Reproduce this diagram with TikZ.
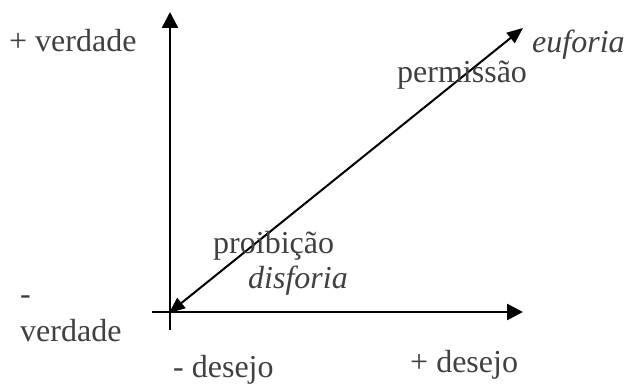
\documentclass[tikz,border=0pt]{standalone}
\usepackage{fontspec}
\setmainfont{Liberation Serif}
\usetikzlibrary{arrows.meta}
\definecolor{txtgray}{HTML}{404040}
\begin{document}
\begin{tikzpicture}[x=1pt,y=-1pt,
  lbl/.style={anchor=base west,inner sep=0pt,text=txtgray,font=\fontsize{32}{37}\selectfont},
  axis/.style={line width=2.6pt,-{Triangle[length=16pt,width=16pt]}},
  diag/.style={line width=2pt,{Triangle[length=16pt,width=13pt]}-{Triangle[length=16pt,width=13pt]}}]
\useasboundingbox (0,0) rectangle (626,385);
\coordinate (vbot) at (170,330);
\coordinate (vtop) at (170,12);
\coordinate (hleft) at (152,312);
\coordinate (hright) at (523,312);
\coordinate (dlo) at (169,313);
\coordinate (dhi) at (523,28);
\draw[axis] (vbot) -- (vtop);
\draw[axis] (hleft) -- (hright);
\draw[diag] (dlo) -- (dhi);
\node[lbl] (vplus) at (9,52) {+ verdade};
\node[lbl,align=left,anchor=south west] (vminus) at (20,342) {-\\verdade};
\node[lbl] (perm) at (397,83) {permissão};
\node[lbl] (euf) at (532,53) {\itshape euforia};
\node[lbl] (proib) at (213,253) {proibição};
\node[lbl] (disf) at (248,288) {\itshape disforia};
\node[lbl] (dminus) at (173,377) {- desejo};
\node[lbl] (dplus) at (410,372) {+ desejo};
\end{tikzpicture}
\end{document}
